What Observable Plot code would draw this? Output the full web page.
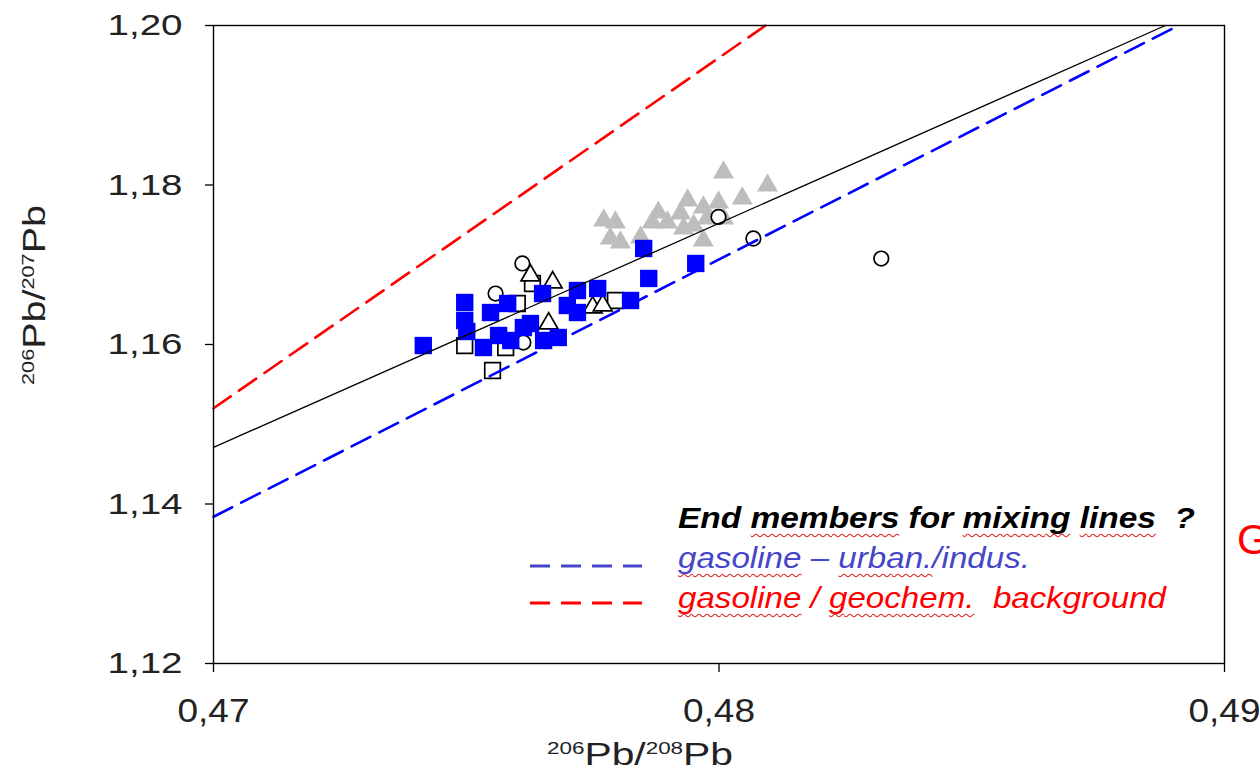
<!DOCTYPE html>
<html>
<head>
<meta charset="utf-8">
<script src="https://cdn.jsdelivr.net/npm/d3@7"></script>
<script src="https://cdn.jsdelivr.net/npm/@observablehq/plot@0.6"></script>
<style>
  html, body { margin: 0; padding: 0; background: #fff; overflow: hidden; }
  #wrap { position: relative; width: 1260px; height: 771px; overflow: hidden; background: #fff; }
  #wrap svg { position: absolute; left: 0; top: 0; }
  .ov { position: absolute; white-space: pre; line-height: 1; font-family: "Liberation Sans", Arial, sans-serif; display: inline-block; }
  .sup { font-size: 0.55em; vertical-align: 0.62em; }
  .bl { display: inline-block; width: 0; height: 0; vertical-align: baseline; }
  .wavy { text-decoration: underline wavy #e02020; text-decoration-thickness: 1px; text-underline-offset: 5px; text-decoration-skip-ink: none; }
</style>
</head>
<body>
<div id="wrap"></div>
<script>
// ---------- data ----------
const xTicks = [0.47, 0.48, 0.49];
const yTicks = [1.12, 1.14, 1.16, 1.18, 1.20];

// filled blue squares [206Pb/208Pb, 206Pb/207Pb]
const blueSquares = [
  [0.47415, 1.15987], [0.47497, 1.16527], [0.47497, 1.16301], [0.47501, 1.16163],
  [0.47548, 1.16401], [0.47582, 1.16514], [0.47534, 1.15962], [0.47564, 1.16113],
  [0.47588, 1.16050], [0.47613, 1.16213], [0.47627, 1.16263], [0.47651, 1.16639],
  [0.47653, 1.16050], [0.47682, 1.16088], [0.47700, 1.16489], [0.47720, 1.16401],
  [0.47720, 1.16677], [0.47760, 1.16702], [0.47825, 1.16552], [0.47851, 1.17204],
  [0.47861, 1.16828], [0.47954, 1.17016]
];
// open squares
const openSquares = [
  [0.47497, 1.15987], [0.47552, 1.15674], [0.47578, 1.15962], [0.47601, 1.16514],
  [0.47631, 1.16765], [0.47795, 1.16552]
];
// open circles
const openCircles = [
  [0.47611, 1.17016], [0.47558, 1.16639], [0.47613, 1.16025], [0.48068, 1.17329],
  [0.48321, 1.17078], [0.47999, 1.17600]
];
// open triangles
const openTriangles = [
  [0.47627, 1.16865], [0.47671, 1.16778], [0.47663, 1.16263], [0.47750, 1.16464],
  [0.47770, 1.16489]
];
// grey triangles
const greyTriangles = [
  [0.47772, 1.17555], [0.47795, 1.17530], [0.47785, 1.17329], [0.47805, 1.17279],
  [0.47845, 1.17342], [0.47868, 1.17530], [0.47880, 1.17655], [0.47898, 1.17530],
  [0.47924, 1.17643], [0.47938, 1.17806], [0.47930, 1.17455], [0.47950, 1.17492],
  [0.47969, 1.17718], [0.47977, 1.17580], [0.47999, 1.17781], [0.48009, 1.17580],
  [0.47969, 1.17304], [0.48009, 1.18157], [0.48046, 1.17831], [0.48096, 1.17994]
];
// mixing lines (end points)
const lineRed   = [[0.47, 1.1520], [0.48092, 1.2000]];
const lineBlack = [[0.47, 1.1471], [0.48883, 1.2000]];
const lineBlue  = [[0.47, 1.1384], [0.48909, 1.2000]];

const legendTitle = "End members for mixing lines  ?";
const legendBlue = "gasoline – urban./indus.";
const legendRed = "gasoline / geochem.  background";

// ---------- chart ----------
const fmt = d => d.toFixed(2).replace(".", ",");
const X = d => d[0], Y = d => d[1];

const plot = Plot.plot({
  width: 1260,
  height: 771,
  marginLeft: 213,
  marginRight: 36,
  marginTop: 25,
  marginBottom: 108,
  style: { background: "white", fontFamily: "Liberation Sans, Arial, sans-serif", color: "black", overflow: "visible" },
  x: { domain: [0.47, 0.49] },
  y: { domain: [1.12, 1.20] },
  marks: [
    Plot.axisX({ ticks: xTicks, tickFormat: fmt, tickSize: 9, tickPadding: 25, label: null, fontSize: 34, strokeWidth: 1.3 }),
    Plot.axisY({ ticks: yTicks, tickFormat: fmt, tickSize: 8, tickPadding: 23, label: null, fontSize: 30, strokeWidth: 1.3 }),
    Plot.dot(greyTriangles, { x: X, y: Y, symbol: "triangle", r: 7.8, fill: "#bdbdbd" }),
    Plot.dot(openSquares, { x: X, y: Y, symbol: "square", r: 8.8, fill: "white", stroke: "black", strokeWidth: 1.7 }),
    Plot.dot(openCircles, { x: X, y: Y, symbol: "circle", r: 7.3, fill: "white", stroke: "black", strokeWidth: 1.7 }),
    Plot.dot(openTriangles, { x: X, y: Y, symbol: "triangle", r: 7, fill: "white", stroke: "black", strokeWidth: 1.7 }),
    Plot.dot(blueSquares, { x: X, y: Y, symbol: "square", r: 9.8, fill: "#0000ff" }),
    Plot.line(lineRed, { x: X, y: Y, stroke: "#ff0000", strokeWidth: 2.6, strokeDasharray: "21,10" }),
    Plot.line(lineBlue, { x: X, y: Y, stroke: "#0000ff", strokeWidth: 2.6, strokeDasharray: "21,10" }),
    Plot.line(lineBlack, { x: X, y: Y, stroke: "black", strokeWidth: 1.3 }),
    Plot.frame({ stroke: "black", strokeWidth: 1.4 })
  ]
});

const wrap = document.getElementById("wrap");
wrap.appendChild(plot);

// tick label widths
d3.select(plot).selectAll('g[aria-label="y-axis tick label"] text')
  .attr("textLength", 75).attr("lengthAdjust", "spacingAndGlyphs").attr("fill", "#222");
d3.select(plot).selectAll('g[aria-label="x-axis tick label"] text')
  .attr("textLength", 72).attr("lengthAdjust", "spacingAndGlyphs").attr("fill", "#222");

// ---------- overlay text ----------
function addText(html, opts) {
  const el = document.createElement("div");
  el.className = "ov";
  el.innerHTML = html + '<span class="bl"></span>';
  el.style.fontSize = opts.size + "px";
  if (opts.color) el.style.color = opts.color;
  if (opts.weight) el.style.fontWeight = opts.weight;
  if (opts.italic) el.style.fontStyle = "italic";
  el.style.left = "0px"; el.style.top = "0px";
  wrap.appendChild(el);
  const r = el.getBoundingClientRect();
  const asc = el.querySelector(".bl").getBoundingClientRect().top - r.top; // baseline offset
  const s = opts.width ? opts.width / r.width : 1;
  if (opts.rotate) {
    // baseline lies at x = bx after rotation; text centred on cy
    el.style.left = (opts.bx - asc - 0 + (asc - r.height / 2) - r.width / 2 + r.height / 2 - (asc - r.height / 2) * 0) + "px";
    // simpler: rotate around the baseline-left point
    el.style.transformOrigin = `0px ${asc}px`;
    el.style.left = opts.bx + "px";
    el.style.top = (opts.cy + (r.width * s) / 2 - asc) + "px";
    el.style.transform = `rotate(-90deg) scaleX(${s})`;
  } else {
    let left = opts.left;
    if (opts.cx !== undefined) left = opts.cx - (r.width * s) / 2;
    el.style.left = left + "px";
    el.style.top = (opts.baseline - asc) + "px";
    el.style.transformOrigin = "left center";
    el.style.transform = `scaleX(${s})`;
  }
  return el;
}

const w = t => `<span class="wavy">${t}</span>`;

addText(`End ${w("members")} for ${w("mixing")} ${w("lines")}  ?`,
  { size: 30, weight: "bold", italic: true, color: "#000", left: 678, baseline: 528, width: 517 });
addText(`${w("gasoline")} – ${w("urban.")}/indus.`,
  { size: 30, italic: true, color: "#4646c8", left: 678, baseline: 568, width: 352 });
addText(`${w("gasoline")} / ${w("geochem.")}  background`,
  { size: 30, italic: true, color: "#ff0000", left: 678, baseline: 608, width: 488 });

// axis titles
addText(`<span class="sup">206</span>Pb/<span class="sup">208</span>Pb`,
  { size: 31, color: "#222", cx: 640, baseline: 765, width: 186 });
addText(`<span class="sup">206</span>Pb/<span class="sup">207</span>Pb`,
  { size: 31, color: "#222", rotate: true, bx: 45, cy: 295, width: 180 });

// red letter cut off at the right edge of the slide
addText(`G`, { size: 42, color: "#ff0000", left: 1237, baseline: 554 });

// legend swatches
const sw = d3.select(plot).append("g");
sw.append("line").attr("x1", 530).attr("x2", 642).attr("y1", 566).attr("y2", 566)
  .attr("stroke", "#4646c8").attr("stroke-width", 3.2).attr("stroke-dasharray", "20,11");
sw.append("line").attr("x1", 530).attr("x2", 642).attr("y1", 603).attr("y2", 603)
  .attr("stroke", "#ff0000").attr("stroke-width", 3.2).attr("stroke-dasharray", "20,11");
</script>
</body>
</html>
